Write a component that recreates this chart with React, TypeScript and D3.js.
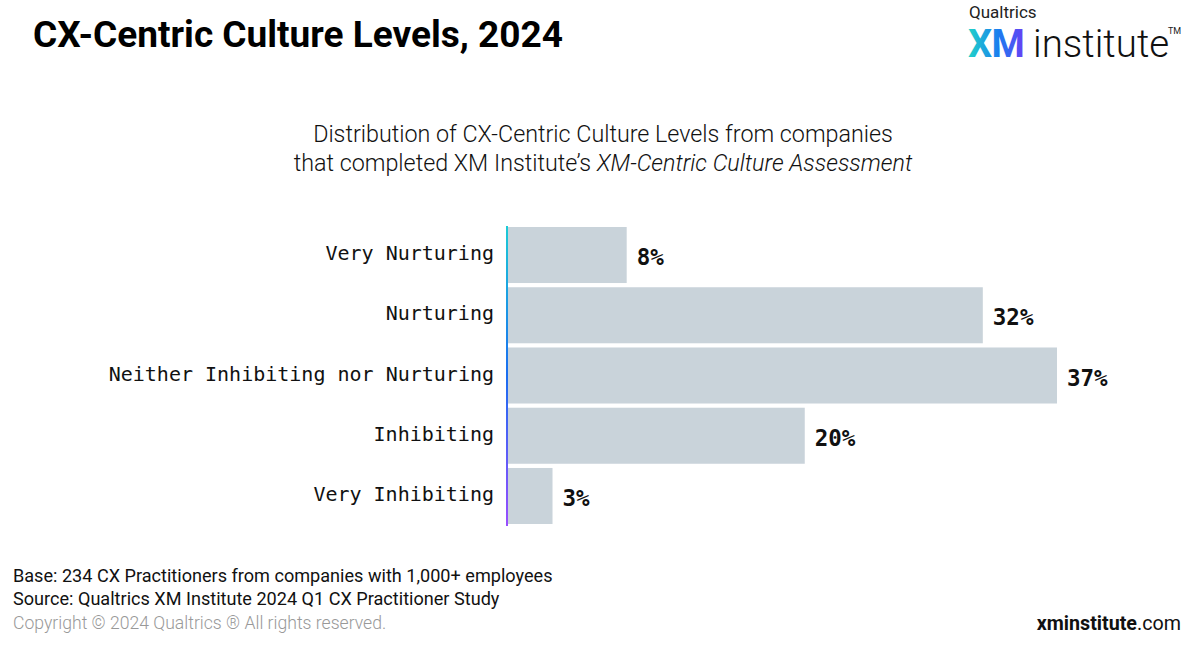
import React from "react";
import * as d3 from "d3";

const categories = ["Very Nurturing", "Nurturing", "Neither Inhibiting nor Nurturing", "Inhibiting", "Very Inhibiting"];
const values = [8, 32, 37, 20, 3];
const valueLabels = ["8%", "32%", "37%", "20%", "3%"];

const W = 1200;
const H = 651;

export default function App() {
  const x = d3.scaleLinear().domain([0, 37]).range([508, 1057]);
  const y = d3.scaleBand<string>().domain(categories).range([227, 524]).paddingInner(0.07).paddingOuter(0);
  const mono = "'DejaVu Sans Mono', 'Liberation Mono', monospace";
  const sans = "Roboto, 'Noto Sans', sans-serif";
  return (
    <svg width={W} height={H} style={{ position: "absolute", left: 0, top: 0, background: "#fff" }}>
      <defs>
        <linearGradient id="axisGrad" x1="0" y1="0" x2="0" y2="1">
          <stop offset="0%" stopColor="#1ccbd6" />
          <stop offset="50%" stopColor="#1a6df0" />
          <stop offset="100%" stopColor="#9a4dff" />
        </linearGradient>
        <linearGradient id="xmGrad" x1="0" y1="0" x2="1" y2="0">
          <stop offset="0%" stopColor="#21d4c8" />
          <stop offset="55%" stopColor="#1a7cf0" />
          <stop offset="100%" stopColor="#6a3ef5" />
        </linearGradient>
      </defs>
      <rect x={0} y={0} width={W} height={H} fill="#fff" />
      <text x={33} y={47} fontFamily={sans} fontWeight={700} fontSize={37} fill="#000">
        CX-Centric Culture Levels, 2024
      </text>
      {/* logo */}
      <text x={969} y={18} fontFamily={sans} fontSize={17} fill="#222">Qualtrics</text>
      <text x={968} y={57} fontFamily={sans} fontWeight={700} fontSize={38} fill="url(#xmGrad)" letterSpacing={-0.5}>XM</text>
      <text x={1033} y={57} fontFamily={sans} fontWeight={300} fontSize={38.5} fill="#111">institute</text>
      <text x={1168} y={34} fontFamily={sans} fontSize={9} fill="#222">TM</text>

      <text x={603} y={142} textAnchor="middle" fontFamily={sans} fontWeight={300} fontSize={23.3} fill="#111">
        Distribution of CX-Centric Culture Levels from companies
      </text>
      <text x={603} y={171} textAnchor="middle" fontFamily={sans} fontWeight={300} fontSize={23.3} fill="#111">
        that completed XM Institute’s <tspan fontStyle="italic">XM-Centric Culture Assessment</tspan>
      </text>

      {categories.map((c, i) => {
        const yy = y(c)!;
        const bw = y.bandwidth();
        return (
          <g key={c}>
            <rect x={x(0)} y={yy} width={x(values[i]) - x(0)} height={bw} fill="#c9d3da" />
            <text x={x(values[i]) + 10} y={yy + bw / 2 + 10} fontFamily={mono} fontWeight={700} fontSize={22.5} fill="#111">
              {valueLabels[i]}
            </text>
            <text x={494} y={yy + bw / 2 + 5} textAnchor="end" fontFamily={mono} fontSize={20} fill="#111">
              {c}
            </text>
          </g>
        );
      })}
      <rect x={506} y={226} width={2} height={300} fill="url(#axisGrad)" />

      <text x={13} y={582} fontFamily={sans} fontSize={18.1} fill="#111">
        Base: 234 CX Practitioners from companies with 1,000+ employees
      </text>
      <text x={13} y={605} fontFamily={sans} fontSize={18.1} fill="#111">
        Source: Qualtrics XM Institute 2024 Q1 CX Practitioner Study
      </text>
      <text x={13} y={629} fontFamily={sans} fontWeight={300} fontSize={17.6} fill="#999">
        Copyright © 2024 Qualtrics ® All rights reserved.
      </text>
      <text x={1181} y={630} textAnchor="end" fontFamily={sans} fontSize={19.7} fill="#111">
        <tspan fontWeight={700}>xminstitute</tspan>.com
      </text>
    </svg>
  );
}
